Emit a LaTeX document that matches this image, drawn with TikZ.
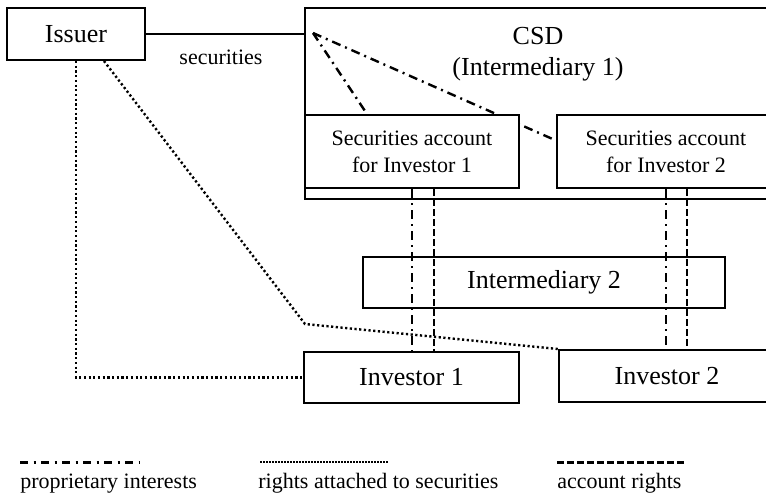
\documentclass[tikz,border=0pt]{standalone}
\usepackage{fontspec}
\setmainfont{Liberation Serif}
\usetikzlibrary{backgrounds,calc}

\tikzset{
	box/.style={shape=rectangle,draw=black,line width=1pt,inner sep=0pt,font=\fontsize{13}{15.6}\selectfont},
	accbox/.style={box,fill=white,align=center,font=\fontsize{11}{13.5}\selectfont},
	proprietary/.style={line width=1.2pt,dash pattern=on 4.5pt off 2.5pt on 1pt off 2.5pt},
	attached/.style={line width=1.2pt,dash pattern=on 1.1pt off 1.25pt},
	accountright/.style={line width=1.2pt,dash pattern=on 3.5pt off 1.5pt},
	legendtext/.style={inner sep=0pt,anchor=base west,font=\fontsize{11}{13.5}\selectfont}
}

\begin{document}
\begin{tikzpicture}[x=0.5pt,y=-0.5pt]

	\useasboundingbox (0,0) rectangle (766,500);
	\clip (0,0) rectangle (766,500);

	\node[box,minimum width=69pt,minimum height=26pt] (issuer) at (76,34) {Issuer};
	\node[box,minimum width=235pt,minimum height=95.5pt] (csd) at (540,103.5) {};
	\node[align=center,font=\fontsize{13}{15.6}\selectfont] (csdtext) at (538,54) {CSD\\(Intermediary 1)};
	\node[accbox,minimum width=107pt,minimum height=36.5pt] (acc1) at (412,151.5) {Securities account\\for Investor 1};
	\node[accbox,minimum width=109pt,minimum height=36.5pt] (acc2) at (666,151.5) {Securities account\\for Investor 2};
	\node[box,minimum width=181pt,minimum height=25.5pt] (inter2) at (544,282.5) {Intermediary 2};
	\node[box,minimum width=107.5pt,minimum height=25.5pt] (inv1) at (411.5,377.5) {Investor 1};
	\node[box,minimum width=108pt,minimum height=26pt] (inv2) at (667,376) {Investor 2};

	\coordinate (split) at (313,33);
	\coordinate (bend) at (305,324);

	% securities held at the CSD
	\node[font=\fontsize{11}{13.5}\selectfont] (seclabel) at (221,57) {securities};
	\draw[line width=1pt] (issuer.east) -- (issuer.east -| csd.west);

	\begin{scope}[on background layer]
	\draw[proprietary] (split) -- ($(acc1.north west)+(63,0)$);
	\draw[proprietary] (split) -- ($(acc2.west)+(0,-11)$);
	\end{scope}

	\draw[proprietary] (acc1.south) -- (acc1.south |- inv1.north);
	\draw[accountright] ([xshift=11pt]acc1.south) -- ([xshift=11pt]acc1.south |- inv1.north);
	\draw[proprietary] (acc2.south) -- (acc2.south |- inv2.north);
	\draw[accountright] ([xshift=10.5pt]acc2.south) -- ([xshift=10.5pt]acc2.south |- inv2.north);

	\draw[attached] (issuer.south) |- (inv1.west);
	\draw[attached] ([xshift=14pt]issuer.south) -- (bend) -- (inv2.north west);

	% legend
	\node[legendtext] (legprop) at (20,488) {proprietary interests};
	\node[legendtext] (legattached) at (258,488) {rights attached to securities};
	\node[legendtext] (legaccount) at (557,488) {account rights};
	\draw[proprietary,line width=1.5pt,dash pattern=on 4pt off 2.75pt on 1pt off 2.75pt] ([yshift=13pt]legprop.base west) -- ++(120,0);
	\draw[attached,line width=0.8pt,dash pattern=on 0.8pt off 0.7pt] ([xshift=1pt,yshift=13pt]legattached.base west) -- ++(128,0);
	\draw[accountright,line width=1.5pt] ([yshift=13pt]legaccount.base west) -- ++(130,0);

\end{tikzpicture}
\end{document}
